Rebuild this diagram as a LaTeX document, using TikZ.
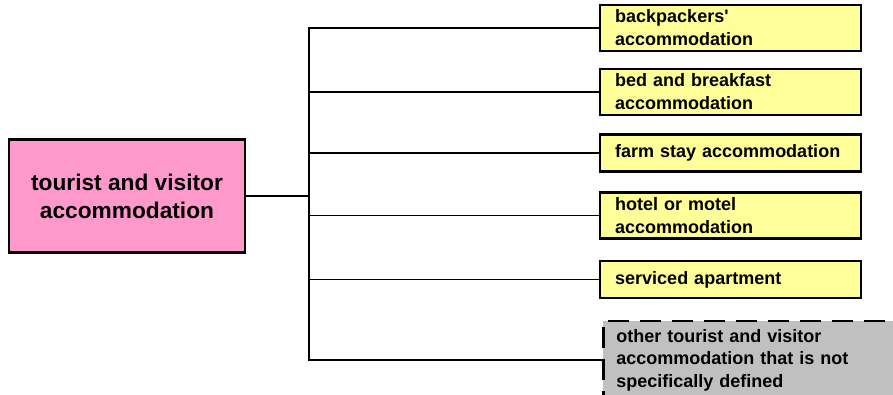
\documentclass[tikz,border=0pt]{standalone}
\usepackage{fontspec}
\setmainfont{Liberation Sans}[Ligatures=TeXOff]
\definecolor{rootpink}{HTML}{FF99CC}
\definecolor{leafyellow}{HTML}{FFFF99}
\definecolor{othergrey}{HTML}{C0C0C0}
\tikzset{
  rootbox/.style={draw, line width=2.4pt, fill=rootpink, minimum width=236pt,
    minimum height=113pt, align=center, font=\fontsize{22.7}{28}\selectfont\bfseries},
  leafbox/.style={draw, line width=2.4pt, fill=leafyellow, anchor=west, text width=231pt,
    inner xsep=15pt, inner ysep=2pt, minimum height=46pt, align=left,
    font=\fontsize{18}{23}\selectfont\bfseries},
  leafsingle/.style={leafbox, minimum height=37pt},
  otherbox/.style={leafbox, fill=othergrey, line width=2.8pt, dash pattern=on 21pt off 11pt,
    inner xsep=13pt, text width=300pt, minimum height=78pt, font=\fontsize{18}{22.5}\selectfont\bfseries},
  branch/.style={line width=1.6pt}
}

\begin{document}
\begin{tikzpicture}[x=1pt, y=-1pt]
  \useasboundingbox (0,0) rectangle (893,394);
  \clip (0,0) rectangle (893,394);

  \node [rootbox] at (127,196)             (Root)        {tourist and visitor\\accommodation};
  \node [leafbox] at (599,28)              (Backpackers) {backpackers'\\accommodation};
  \node [leafbox] at (599,92)              (BedBreakfast){bed and breakfast\\accommodation};
  \node [leafsingle] at (599,153)          (FarmStay)    {farm stay accommodation};
  \node [leafbox] at (599,215.5)           (HotelMotel)  {hotel or motel\\accommodation};
  \node [leafsingle] at (599,279.5)        (Serviced)    {serviced apartment};
  \node [otherbox] at (602,360)            (Other)       {other tourist and visitor\\accommodation that is not\\specifically defined};

  \coordinate (Hub) at (309,196);

  \draw [branch] (Root.east) -- (Hub) |- (Backpackers.west);
  \draw [branch] (Hub) |- (BedBreakfast.west);
  \draw [branch] (Hub) |- (FarmStay.west);
  \draw [branch] (Hub) |- (HotelMotel.west);
  \draw [branch] (Hub) |- (Serviced.west);
  \draw [branch] (Hub) |- (Other.west);
\end{tikzpicture}
\end{document}
